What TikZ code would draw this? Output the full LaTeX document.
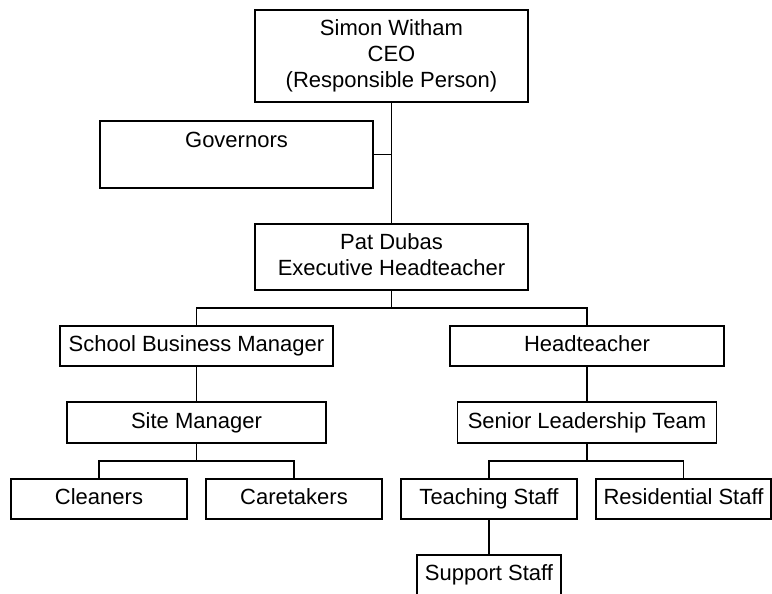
\documentclass[tikz,border=0pt]{standalone}
\usepackage{fontspec}
\setmainfont{Liberation Sans}
\newcommand\ms{\rule[-4.2pt]{0pt}{20pt}}
\begin{document}
\begin{tikzpicture}[x=1pt,y=-1pt,
  box/.style={draw, line width=1.2pt, inner sep=0pt, align=center,
    font=\fontsize{22}{26}\selectfont},
  wide/.style={box, minimum width=273pt},
  small/.style={box, minimum width=176pt, minimum height=40pt},
  link/.style={line width=1.3pt}]
\clip (0,0) rectangle (772,594);
\fill[white] (0,0) rectangle (772,594);
\node[wide, minimum height=92pt] (ceo) at (391.5,56) {\ms Simon Witham\\\ms CEO\\\ms (Responsible Person)};
\node[wide, minimum height=67pt] (gov) at (236.5,154.5) {\ms Governors\\\ms};
\node[wide, minimum height=66pt] (pat) at (391.5,257) {\ms Pat Dubas\\\ms Executive Headteacher};
\node[wide, minimum height=40pt] (sbm) at (196.5,346) {\ms School Business Manager};
\node[box, minimum width=274pt, minimum height=40pt] (head) at (587,346) {\ms Headteacher};
\node[box, minimum width=259pt, minimum height=41pt] (site) at (196.5,422.5) {\ms Site Manager};
\node[box, minimum width=259pt, minimum height=41pt] (slt) at (587,422.5) {\ms Senior Leadership Team};
\node[small] (clean) at (99,499) {\ms Cleaners};
\node[small] (care) at (294,499) {\ms Caretakers};
\node[small] (teach) at (489,499) {\ms Teaching Staff};
\node[small, minimum width=175pt] (resi) at (683.5,499) {\ms Residential Staff};
\node[small, minimum width=144pt] (supp) at (489,575) {\ms Support Staff};
\coordinate (b1) at (391.5,308);
\coordinate (b2) at (196.5,461);
\coordinate (b3) at (587,461);
\draw[link] (ceo.south) -- (pat.north);
\draw[link] (gov.east) -- (gov.east -| ceo.south);
\draw[link] (pat.south) -- (b1);
\draw[link] (sbm.north) |- (b1) -| (head.north);
\draw[link] (sbm.south) -- (site.north);
\draw[link] (head.south) -- (slt.north);
\draw[link] (site.south) -- (b2);
\draw[link] (clean.north) |- (b2) -| (care.north);
\draw[link] (slt.south) -- (b3);
\draw[link] (teach.north) |- (b3) -| (resi.north);
\draw[link] (teach.south) -- (supp.north);
\end{tikzpicture}
\end{document}
